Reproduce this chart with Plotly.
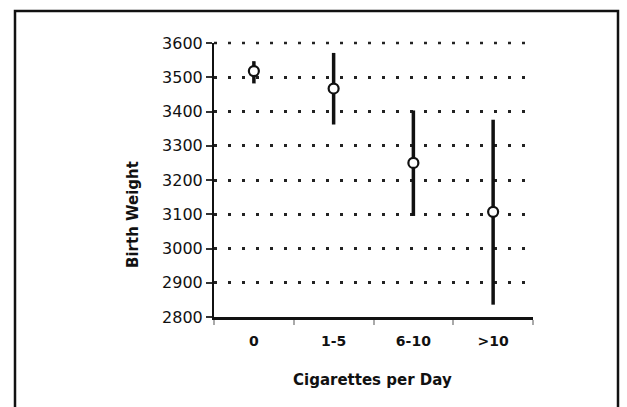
import plotly.graph_objects as go

categories = ["0", "1-5", "6-10", ">10"]
mean_weight = [3518, 3467, 3250, 3107]
upper_ci = [3547, 3571, 3403, 3376]
lower_ci = [3482, 3362, 3095, 2836]
y_ticks = [2800, 2900, 3000, 3100, 3200, 3300, 3400, 3500, 3600]

err_plus = [u - m for u, m in zip(upper_ci, mean_weight)]
err_minus = [m - l for m, l in zip(mean_weight, lower_ci)]

W, H = 627, 407
L, R, T, B = 214, 94, 43, 90
pw, ph = W - L - R, H - T - B

def px_x(p):
    return (p - L) / pw

def px_y(p):
    return (H - B - p) / ph

FONT = "DejaVu Sans"

fig = go.Figure()
fig.add_trace(go.Scatter(
    x=categories, y=mean_weight, mode="markers",
    marker=dict(symbol="circle", size=10, color="white",
                line=dict(color="#111", width=2.2)),
    error_y=dict(type="data", symmetric=False, array=err_plus,
                 arrayminus=err_minus, color="#111", thickness=3.5, width=0),
    showlegend=False, cliponaxis=False,
))

fig.update_layout(
    width=W, height=H,
    margin=dict(l=L, r=R, t=T, b=B),
    paper_bgcolor="white", plot_bgcolor="white",
    font=dict(family=FONT, color="#111", size=14),
    xaxis=dict(
        type="category", range=[-0.5, 3.5],
        showgrid=False, zeroline=False,
        showline=True, linecolor="#111", linewidth=2.5,
        ticks="outside", tickson="boundaries", ticklen=5,
        tickcolor="#aaa", tickwidth=1.5,
        ticklabelstandoff=9,
        tickfont=dict(family=FONT, size=14, color="#111", weight="bold"),
    ),
    yaxis=dict(
        range=[y_ticks[0], y_ticks[-1]], tickvals=y_ticks,
        showgrid=True, gridcolor="#222", gridwidth=2.5, griddash="3px,11px",
        zeroline=False, showline=True, linecolor="#111", linewidth=2,
        ticks="outside", ticklen=6, tickcolor="#333", tickwidth=2,
        tickfont=dict(family=FONT, size=16, color="#111"),
    ),
    annotations=[
        dict(text="<b>Birth Weight</b>", xref="paper", yref="paper",
             x=px_x(133), y=px_y(215), textangle=-90, showarrow=False,
             font=dict(family=FONT, size=15, color="#111"),
             xanchor="center", yanchor="middle"),
        dict(text="<b>Cigarettes per Day</b>", xref="paper", yref="paper",
             x=px_x(372), y=px_y(380), showarrow=False,
             font=dict(family=FONT, size=15, color="#111"),
             xanchor="center", yanchor="middle"),
    ],
    shapes=[
        # top gridline (at the upper range edge, which plotly omits)
        dict(type="line", xref="paper", yref="paper",
             x0=0, x1=1, y0=1, y1=1,
             line=dict(color="#222", width=2.5, dash="3px,11px"), layer="below"),
        dict(type="rect", xref="paper", yref="paper",
             x0=px_x(15), x1=px_x(618), y0=px_y(420), y1=px_y(11),
             line=dict(color="#111", width=2.5), fillcolor="rgba(0,0,0,0)"),
    ],
)

fig.write_html("out.html")
